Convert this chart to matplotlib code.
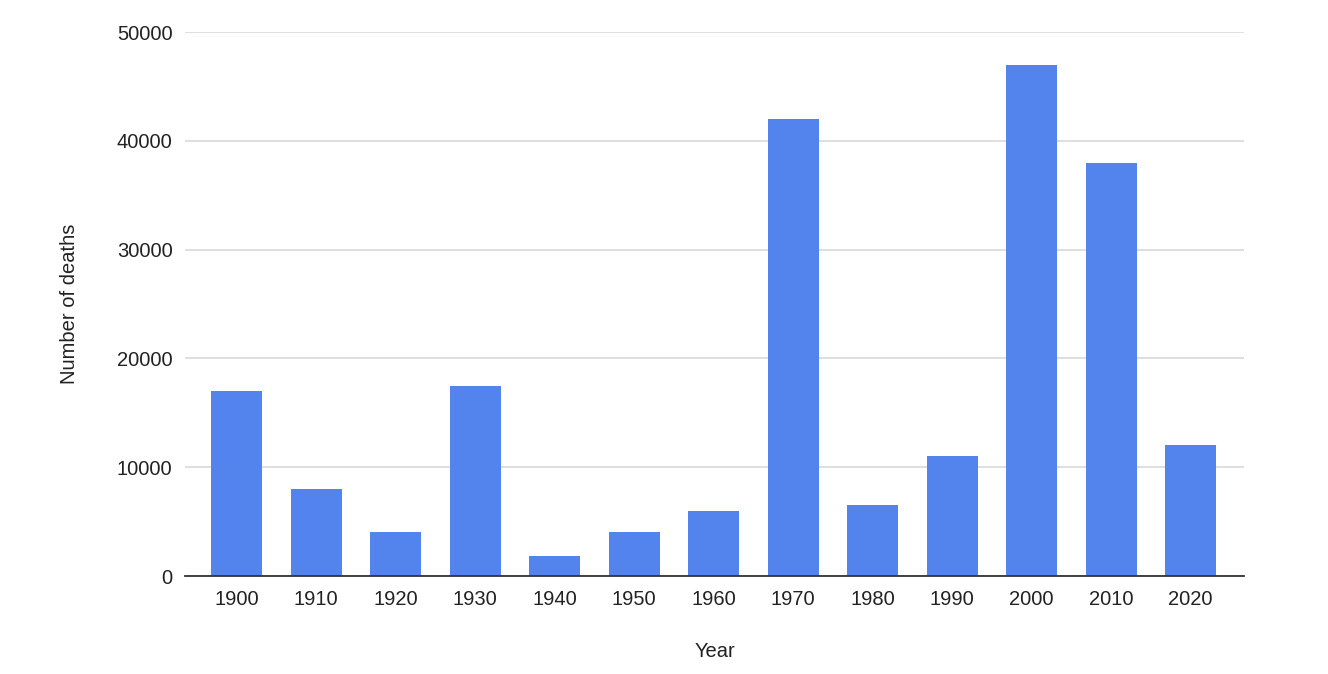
import matplotlib
matplotlib.use("Agg")
import matplotlib.pyplot as plt

years = ["1900", "1910", "1920", "1930", "1940", "1950", "1960",
         "1970", "1980", "1990", "2000", "2010", "2020"]
deaths = [17000, 8000, 4000, 17500, 1850, 4000, 6000,
          42000, 6500, 11000, 47000, 38000, 12000]
yticks = [0, 10000, 20000, 30000, 40000, 50000]

plt.rcParams['font.family'] = ['Liberation Sans', 'DejaVu Sans']

fig = plt.figure(figsize=(13.28, 6.74), dpi=100)
ax = fig.add_axes([185/1328, 1-576/674, (1244-185)/1328, (576-32)/674])

x = list(range(len(years)))
ax.bar(x, deaths, width=0.645, color="#5383EC", zorder=3)

ax.set_ylim(0, 50000)
ax.set_xlim(-0.65, len(years) - 0.33)
ax.set_yticks(yticks)
ax.set_yticklabels([str(v) for v in yticks])
ax.set_xticks(x)
ax.set_xticklabels(years)

ax.grid(axis='y', color="#d9d9d9", linewidth=1.2, zorder=0)
for s in ['top', 'right', 'left']:
    ax.spines[s].set_visible(False)
ax.spines['bottom'].set_color("#333333")
ax.spines['bottom'].set_linewidth(1.3)
ax.spines['bottom'].set_zorder(4)
ax.tick_params(axis='both', length=0, labelsize=14.5, colors="#222222")
ax.tick_params(axis='y', pad=9)
ax.tick_params(axis='x', pad=10)

ax.set_xlabel("Year", fontsize=14.5, color="#222222", labelpad=24)
ax.set_ylabel("Number of deaths", fontsize=14.5, color="#222222", labelpad=27)

fig.savefig("out.png", dpi=100, facecolor="white")
